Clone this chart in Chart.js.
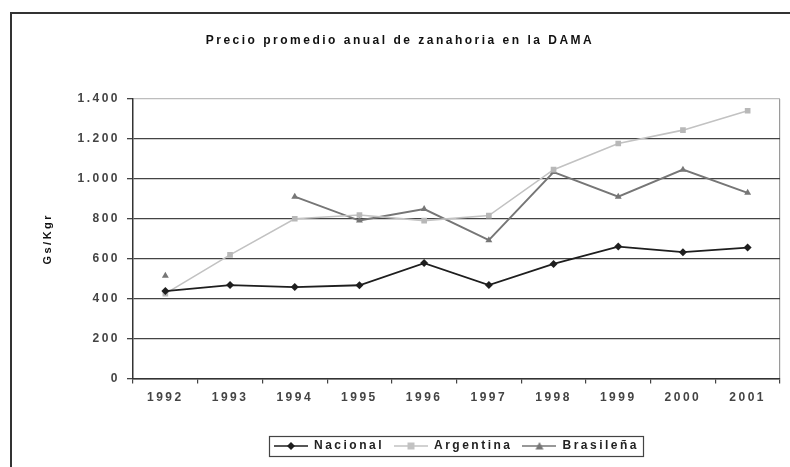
<!DOCTYPE html>
<html><head><meta charset="utf-8">
<script src="https://cdn.jsdelivr.net/npm/chart.js@4.4.0/dist/chart.umd.min.js"></script>
<style>html,body{margin:0;padding:0;background:#fff;}#wrap{width:790px;height:467px;position:relative;}</style>
</head><body><div id="wrap"><canvas id="c" width="790" height="467"></canvas></div>
<script>
const years = ['1992','1993','1994','1995','1996','1997','1998','1999','2000','2001'];
const nacional  = [438, 468, 458, 467, 578, 468, 574, 661, 633, 656];
const argentina = [425, 619, 800, 819, 791, 816, 1046, 1177, 1244, 1341];
const brasilena = [515, null, 911, 791, 849, 693, 1034, 911, 1046, 930];
const yTickLabels = ['0','200','400','600','800','1.000','1.200','1.400'];
const seriesNames = ['Nacional','Argentina','Brasileña'];
const titleText = 'Precio promedio anual de zanahoria en la DAMA';
const yTitle = 'Gs/Kgr';

const FONT = "'Liberation Sans', Arial, sans-serif";
const colNac = '#1e1e1e', colArg = '#c2c2c2', colBra = '#767676';
const SPACING = '2.5px';

function sample(color, style){
  const c = document.createElement('canvas'); c.width = 34; c.height = 10;
  const g = c.getContext('2d');
  g.strokeStyle = color; g.lineWidth = 1.6;
  g.beginPath(); g.moveTo(0,5); g.lineTo(34,5); g.stroke();
  g.fillStyle = color; g.beginPath();
  if (style==='diamond'){ g.moveTo(17,1); g.lineTo(21,5); g.lineTo(17,9); g.lineTo(13,5); }
  else if (style==='square'){ g.rect(13.5,1.5,7,7); }
  else { g.moveTo(17,1); g.lineTo(21,8.5); g.lineTo(13,8.5); }
  g.closePath(); g.fill();
  return c;
}
const samples = [sample(colNac,'diamond'), sample(colArg,'square'), sample(colBra,'tri')];

const deco = {
  id:'deco',
  beforeUpdate(chart){ chart.ctx.letterSpacing = SPACING; },
  beforeDraw(chart){
    const c = chart.ctx; c.letterSpacing = SPACING;
    c.save();
    c.fillStyle = '#fff'; c.fillRect(0,0,chart.width,chart.height);
    c.strokeStyle = '#333'; c.lineWidth = 2;
    c.strokeRect(11,13,800,500);
    c.restore();
  },
  afterDraw(chart){
    const lg = chart.legend; if (!lg || !lg.legendHitBoxes.length) return;
    const hb = lg.legendHitBoxes;
    const l = Math.min(...hb.map(b=>b.left)) - 5;
    const r = Math.max(...hb.map(b=>b.left+b.width)) + 4;
    const t = Math.min(...hb.map(b=>b.top)) - 4;
    const bt = Math.max(...hb.map(b=>b.top+b.height)) + 4;
    const c = chart.ctx; c.save(); c.strokeStyle='#444'; c.lineWidth=1.2;
    c.strokeRect(Math.round(l)+0.5, Math.round(t)+0.5, Math.round(r-l), Math.round(bt-t)); c.restore();
  }
};

new Chart(document.getElementById('c'), {
  type:'line',
  data:{
    labels: years,
    datasets:[
      {label:seriesNames[0], data:nacional, borderColor:colNac, backgroundColor:colNac, borderWidth:1.8,
       pointStyle:'rectRot', pointRadius:4, pointBorderWidth:0, tension:0},
      {label:seriesNames[1], data:argentina, borderColor:colArg, backgroundColor:'#b8b8b8', borderWidth:1.6,
       pointStyle:'rect', pointRadius:4, pointBorderWidth:0, tension:0},
      {label:seriesNames[2], data:brasilena, borderColor:colBra, backgroundColor:colBra, borderWidth:2,
       pointStyle:'triangle', pointRadius:4, pointBorderWidth:0, tension:0, spanGaps:false}
    ]
  },
  options:{
    responsive:false, animation:false, devicePixelRatio:1,
    layout:{padding:{left:20,right:10,top:0,bottom:5}},
    plugins:{
      title:{display:true, text:titleText, color:'#111', font:{family:FONT,size:12,weight:'bold',lineHeight:1.2},
             padding:{top:33,bottom:51.6}},
      legend:{position:'bottom', fullSize:false,
        labels:{usePointStyle:true, pointStyleWidth:34, padding:10, color:'#222',
          font:{family:FONT,size:12,weight:'bold'},
          generateLabels(chart){
            return chart.data.datasets.map((d,i)=>({text:d.label, pointStyle:samples[i], fillStyle:d.borderColor,
              strokeStyle:d.borderColor, lineWidth:0, hidden:false, datasetIndex:i, fontColor:'#222'}));
          }}},
      tooltip:{enabled:false}
    },
    scales:{
      x:{
        offset:true,
        grid:{offset:true, drawOnChartArea:true, tickLength:5,
          color:(ctx)=> ctx.type==='tick' ? 'rgba(0,0,0,0)' : '#9a9a9a',
          tickColor:'#444', lineWidth:1.2},
        border:{color:'#333', width:1.5},
        ticks:{color:'#444', font:{family:FONT,size:12,weight:'bold'}, padding:7, maxRotation:0},
        afterFit(s){ s.height = 51.5; }
      },
      y:{
        min:0, max:1400,
        grid:{tickLength:6, color:(ctx)=> (ctx.tick && ctx.tick.value===1400) ? '#bdbdbd' : '#444',
          tickColor:'#444', lineWidth:1.3},
        border:{color:'#333', width:1.5},
        ticks:{stepSize:200, color:'#444', font:{family:FONT,size:12,weight:'bold'}, padding:7,
          callback:(v,i)=> yTickLabels[i]},
        title:{display:true, text:yTitle, color:'#111', font:{family:FONT,size:11,weight:'bold'}, padding:{top:21,bottom:0}},
        afterFit(s){ s.width = 113; }
      }
    }
  },
  plugins:[deco]
});
</script></body></html>
